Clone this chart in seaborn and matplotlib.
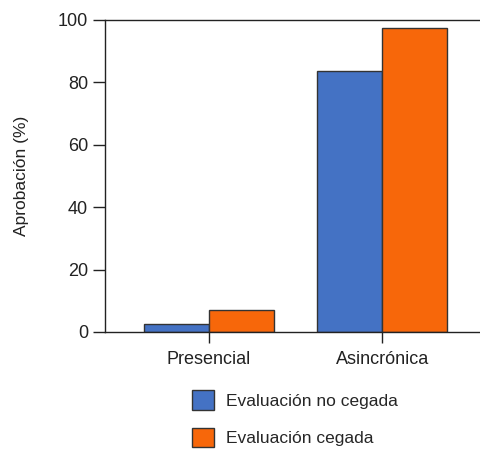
import matplotlib
matplotlib.use("Agg")
import matplotlib.pyplot as plt
import seaborn as sns
import pandas as pd

categorias = ["Presencial", "Asincrónica"]
grupos = ["Evaluación no cegada", "Evaluación cegada"]
no_cegada = [2.7, 83.6]
cegada = [7.0, 97.3]
colores = ["#4472C4", "#F7670A"]

df = pd.DataFrame({
    "modalidad": categorias * 2,
    "grupo": [grupos[0]] * 2 + [grupos[1]] * 2,
    "valor": no_cegada + cegada,
})

sns.set_style("white")
plt.rcParams["font.family"] = ["Liberation Sans", "DejaVu Sans"]

fig = plt.figure(figsize=(4.81, 4.49), dpi=100)
ax = fig.add_axes([0.218, 0.2606, 0.78, 0.695])

sns.barplot(data=df, x="modalidad", y="valor", hue="grupo", palette=colores,
            width=0.75, edgecolor="#333333", linewidth=1, saturation=1, ax=ax)

ax.set_xlim(-0.6, 1.565)
ax.set_ylim(0, 100)
ax.set_yticks([0, 20, 40, 60, 80, 100])
ax.set_xlabel("")
ax.set_ylabel("Aprobación (%)", fontsize=12.5, color="#222222", labelpad=21)
ax.tick_params(axis="both", labelsize=13, colors="#222222", length=9, width=1,
               direction="out", left=True, bottom=True)
ax.tick_params(axis="y", pad=3)
ax.tick_params(axis="x", length=8, pad=6)
for s in ["left", "top", "bottom"]:
    ax.spines[s].set_color("#222222")
    ax.spines[s].set_linewidth(1)
ax.spines["right"].set_visible(False)

handles, labels = ax.get_legend_handles_labels()
ax.get_legend().remove()
fig.legend(handles, labels, loc="upper left", bbox_to_anchor=(0.399, 0.131),
           frameon=False, fontsize=12.5, handlelength=1.3, handleheight=1.35,
           labelspacing=1.05, handletextpad=0.65, borderpad=0, borderaxespad=0)

fig.savefig("out.png", dpi=100)
